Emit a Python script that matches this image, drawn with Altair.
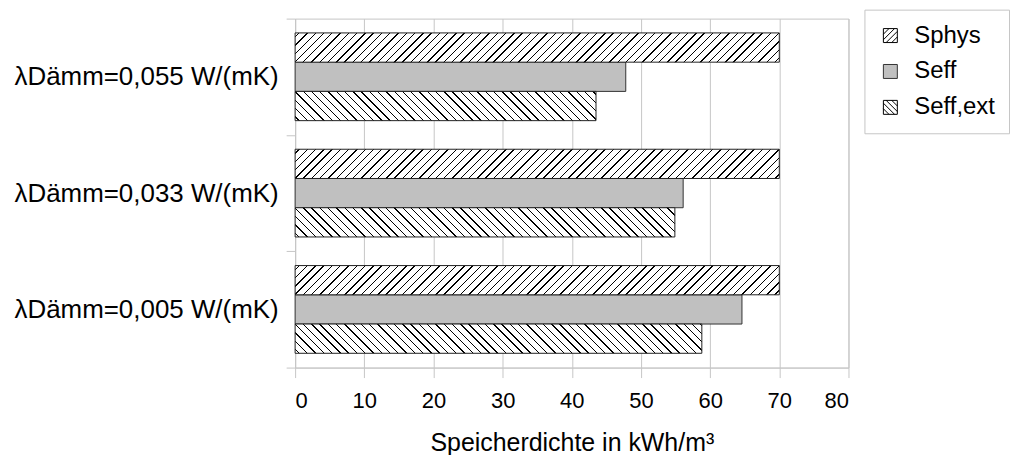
import altair as alt
import pandas as pd

# ---- data ----
categories = ["λDämm=0,055 W/(mK)", "λDämm=0,033 W/(mK)", "λDämm=0,005 W/(mK)"]
series = ["Sphys", "Seff", "Seff,ext"]
sphys = [70.0, 70.0, 70.0]
seff = [47.8, 56.1, 64.6]
seff_ext = [43.5, 54.9, 58.8]
x_ticks = [0, 10, 20, 30, 40, 50, 60, 70, 80]

rows = []
for i, c in enumerate(categories):
    for s, vals in zip(series, [sphys, seff, seff_ext]):
        rows.append({"cat": c, "series": s, "value": vals[i]})
df = pd.DataFrame(rows)

# ---- layout / style ----
W_PLOT = 555
H_PLOT = 350
X_MAX = 80
PAD_OUTER = 0.489
BAND = H_PLOT / len(categories)
BAR_H = BAND / (len(series) + 2 * PAD_OUTER)
GRID = "#c6c6c6"
GRAY_FILL = "#c0c0c0"
FONT = "Liberation Sans"


def hatch_gradient(value, direction):
    """Linear gradient (objectBoundingBox units) that draws 45° hatch lines."""
    w = value / X_MAX * W_PLOT
    h = BAR_H
    r = h / w
    k = (w + h) / (w * (1 + r * r))
    total = w + h
    spacing = 8.3
    half = 0.7
    stops = [{"offset": 0, "color": "white"}]
    p = spacing / 2
    while p < total:
        a = max(0.0, (p - half) / total)
        b = min(1.0, (p + half) / total)
        stops += [
            {"offset": a, "color": "white"},
            {"offset": a, "color": "black"},
            {"offset": b, "color": "black"},
            {"offset": b, "color": "white"},
        ]
        p += spacing
    stops.append({"offset": 1, "color": "white"})
    if direction == "/":
        return {"gradient": "linear", "x1": 0, "y1": 0, "x2": k, "y2": k * r, "stops": stops}
    return {"gradient": "linear", "x1": 0, "y1": 1, "x2": k, "y2": 1 - k * r, "stops": stops}


def symbol_path(direction):
    parts = ["M-1,-1H1V1H-1Z"]
    for c in [-1.2, -0.4, 0.4, 1.2]:
        if c <= 0:
            p1, p2 = (-1, c + 1), (c + 1, -1)
        else:
            p1, p2 = (c - 1, 1), (1, c - 1)
        if direction == "\\":
            p1, p2 = (p1[0], -p1[1]), (p2[0], -p2[1])
        parts.append(f"M{p1[0]:.2f},{p1[1]:.2f}L{p2[0]:.2f},{p2[1]:.2f}")
    return "".join(parts)


x_enc = alt.X(
    "value:Q",
    scale=alt.Scale(domain=[0, X_MAX], nice=False),
    axis=alt.Axis(
        values=x_ticks,
        title="Speicherdichte in kWh/m³",
        grid=True,
        gridColor=GRID,
        domainColor=GRID,
        tickColor=GRID,
        tickSize=10,
        labelFontSize=22,
        labelPadding=13,
        labelColor="black",
        titleFontSize=25,
        titleFontWeight="normal",
        titleColor="black",
        titlePadding=19,
        labelFont=FONT,
        titleFont=FONT,
    ),
)
y_enc = alt.Y(
    "cat:N",
    sort=categories,
    scale=alt.Scale(paddingInner=0, paddingOuter=0),
    axis=alt.Axis(
        title=None,
        tickBand="extent",
        grid=False,
        domainColor=GRID,
        tickColor=GRID,
        tickSize=9,
        labelFontSize=26,
        labelPadding=8,
        labelColor="black",
        labelFont=FONT,
        labelLimit=400,
    ),
)
yoff_enc = alt.YOffset(
    "series:N", sort=series, scale=alt.Scale(paddingInner=0, paddingOuter=PAD_OUTER)
)

base = alt.Chart(df).encode(x=x_enc, y=y_enc, yOffset=yoff_enc)

layers = [
    base.transform_filter(alt.datum.series == "Seff").mark_bar(
        fill=GRAY_FILL, stroke="#333333", strokeWidth=1
    )
]

for i, c in enumerate(categories):
    for s, vals, d in [("Sphys", sphys, "/"), ("Seff,ext", seff_ext, "\\")]:
        layers.append(
            base.transform_filter(
                (alt.datum.series == s) & (alt.datum.cat == c)
            ).mark_bar(fill=hatch_gradient(vals[i], d), stroke="#222222", strokeWidth=1)
        )

legend = alt.Legend(
    title=None,
    orient="none",
    legendX=571,
    legendY=-9,
    strokeColor=GRID,
    fillColor="white",
    padding=14,
    symbolSize=196,
    symbolStrokeWidth=1,
    symbolOpacity=1,
    labelFontSize=24,
    labelFont=FONT,
    labelColor="black",
    labelOffset=12,
    rowPadding=12,
    labelLimit=300,
)

legend_layer = base.mark_point(opacity=0, filled=True, strokeWidth=1).encode(
    shape=alt.Shape(
        "series:N",
        sort=series,
        scale=alt.Scale(domain=series, range=[symbol_path("/"), "square", symbol_path("\\")]),
        legend=legend,
    ),
    fill=alt.Fill(
        "series:N",
        sort=series,
        scale=alt.Scale(domain=series, range=["white", GRAY_FILL, "white"]),
        legend=legend,
    ),
    stroke=alt.Stroke(
        "series:N",
        sort=series,
        scale=alt.Scale(domain=series, range=["black", "#333333", "black"]),
        legend=legend,
    ),
)
layers.append(legend_layer)

chart = (
    alt.layer(*layers)
    .properties(
        width=W_PLOT,
        height=H_PLOT,
        padding={"left": 13, "top": 5, "right": 0, "bottom": 0},
        background="white",
    )
    .configure_view(stroke=GRID)
    .configure_axis(labelFont=FONT, titleFont=FONT)
)

chart.save("out.html", embed_options={"renderer": "svg", "actions": False})
